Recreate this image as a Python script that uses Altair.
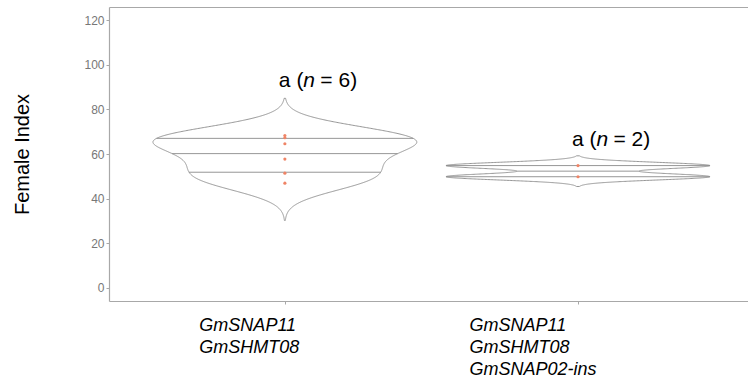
import altair as alt
import numpy as np
import pandas as pd

# Genotype groups (one label line per gene) and their Female Index observations
group_labels = [["GmSNAP11", "GmSHMT08"], ["GmSNAP11", "GmSHMT08", "GmSNAP02-ins"]]
female_index_1 = [68.3, 67.3, 64.6, 57.7, 51.4, 46.9]
female_index_2 = [54.8, 49.8]
letters = ["a", "a"]          # significance letters
label_y = [90.0, 63.8]        # where each group's annotation sits on the y scale

groups = [female_index_1, female_index_2]
positions = [1, 2]

FONT = "Liberation Sans"
LINE = "#8a8a8a"
AXIS = "#a8a8a8"
DOT = "#ef8466"


def nrd0(values):
    """Silverman's rule-of-thumb bandwidth (R's bw.nrd0)."""
    x = np.asarray(values, float)
    sd = x.std(ddof=1)
    iqr = (np.percentile(x, 75) - np.percentile(x, 25)) / 1.34
    return 0.9 * min(sd, iqr) * len(x) ** -0.2


points_df = pd.DataFrame({
    "pos": [p for p, g in zip(positions, groups) for _ in g],
    "value": [v for g in groups for v in g],
})
labels_df = pd.DataFrame({
    "pos": positions,
    "y": label_y,
    "letter": letters,
    "n": [len(g) for g in groups],
})

x_scale = alt.Scale(domain=[0.4, 2.58], nice=False, zero=False)
y_scale = alt.Scale(domain=[-6, 126], nice=False, zero=False)

y_axis = alt.Axis(
    values=list(range(0, 121, 20)), tickSize=3, tickColor=AXIS, domainColor=AXIS,
    domainWidth=1.2, tickWidth=1, labelFontSize=12, labelFont=FONT, labelColor="#777777",
    labelPadding=2, grid=False, title="Female Index", titleFont=FONT, titleFontSize=20,
    titleFontWeight="normal", titleColor="black", titlePadding=51,
)

label_expr = "datum.value == 1 ? {} : {}".format(
    "[" + ",".join("'%s'" % s for s in group_labels[0]) + "]",
    "[" + ",".join("'%s'" % s for s in group_labels[1]) + "]",
)
x_axis_bottom = alt.Axis(
    values=positions, labelExpr=label_expr, labelAlign="left",
    labelOffset={"condition": {"test": "datum.value == 1", "value": -86}, "value": -109},
    labelFontStyle="italic", labelFontSize=18, labelFont=FONT, labelColor="black",
    labelLineHeight=22, labelPadding=12, labelBaseline="top", labelOverlap=False,
    labelBound=False, labelFlush=False, tickSize=3, tickColor=AXIS, domainColor=AXIS,
    domainWidth=1.2, grid=False, title=None,
)
x_axis_top = alt.Axis(
    orient="top", labels=False, ticks=False, domainColor=AXIS, domainWidth=1.2,
    grid=False, title=None, values=[],
)


def density_base(i):
    vals = groups[i]
    bw = nrd0(vals)
    lo, hi = min(vals) - 3 * bw, max(vals) + 3 * bw
    return (
        alt.Chart(points_df)
        .transform_filter(alt.datum.pos == positions[i])
        .transform_density("value", as_=["v", "density"], groupby=["pos"],
                           bandwidth=bw, extent=[lo, hi], steps=512)
        .transform_joinaggregate(maxd="max(density)", total="sum(density)")
        .transform_calculate(
            left="datum.pos - 0.45 * datum.density / datum.maxd",
            right="datum.pos + 0.45 * datum.density / datum.maxd",
        )
    )


layers = []
for i in range(len(groups)):
    base = density_base(i)
    violin = base.mark_area(
        orient="horizontal", fill="white", stroke=LINE, strokeWidth=0.9
    ).encode(
        y=alt.Y("v:Q", scale=y_scale, axis=y_axis),
        x=alt.X("left:Q", scale=x_scale, axis=x_axis_top if i == 0 else None),
        x2="right:Q",
    )
    quartiles = (
        base.transform_window(
            window=[alt.WindowFieldDef(op="sum", field="density", **{"as": "cum"})],
            sort=[alt.SortField("v")],
        )
        .transform_calculate(qb="floor(4 * datum.cum / datum.total)")
        .transform_window(
            window=[alt.WindowFieldDef(op="lag", field="qb", param=1, **{"as": "prev"})],
            sort=[alt.SortField("v")],
        )
        .transform_filter("datum.qb != datum.prev && datum.qb >= 1 && datum.qb <= 3")
        .mark_rule(color=LINE, strokeWidth=0.9)
        .encode(
            y=alt.Y("v:Q", scale=y_scale, axis=y_axis),
            x=alt.X("left:Q", scale=x_scale, axis=None),
            x2="right:Q",
        )
    )
    layers += [violin, quartiles]

dots = alt.Chart(points_df).mark_circle(size=10, color=DOT, opacity=1).encode(
    x=alt.X("pos:Q", scale=x_scale, axis=x_axis_bottom),
    y=alt.Y("value:Q", scale=y_scale, axis=y_axis),
)
layers.append(dots)

# "a (n = k)" annotation: upright letter, italic n, upright count
NBSP = "\u00a0"
text_base = alt.Chart(labels_df).encode(
    x=alt.X("pos:Q", scale=x_scale, axis=None),
    y=alt.Y("y:Q", scale=y_scale, axis=y_axis),
)
seg_a = text_base.transform_calculate(t="datum.letter + ' ('").mark_text(
    align="left", baseline="alphabetic", dx=-6, font=FONT, fontSize=21, color="black"
).encode(text="t:N")
seg_n = text_base.transform_calculate(t="'n'").mark_text(
    align="left", baseline="alphabetic", dx=18.5, font=FONT, fontSize=21,
    fontStyle="italic", color="black"
).encode(text="t:N")
seg_count = text_base.transform_calculate(
    t=f"'=' + '{NBSP}' + datum.n + ')'"
).mark_text(
    align="left", baseline="alphabetic", dx=35.5, font=FONT, fontSize=21, color="black"
).encode(text="t:N")
layers += [seg_a, seg_n, seg_count]

chart = (
    alt.layer(*layers)
    .resolve_axis(x="independent")
    .properties(
        width=639, height=294,
        autosize=alt.AutoSizeParams(type="none"),
        padding={"left": 109, "top": 7, "right": 0, "bottom": 89},
        background="white",
    )
    .configure_view(stroke=None)
)

chart.save("out.html", embed_options={"renderer": "svg", "actions": False})
